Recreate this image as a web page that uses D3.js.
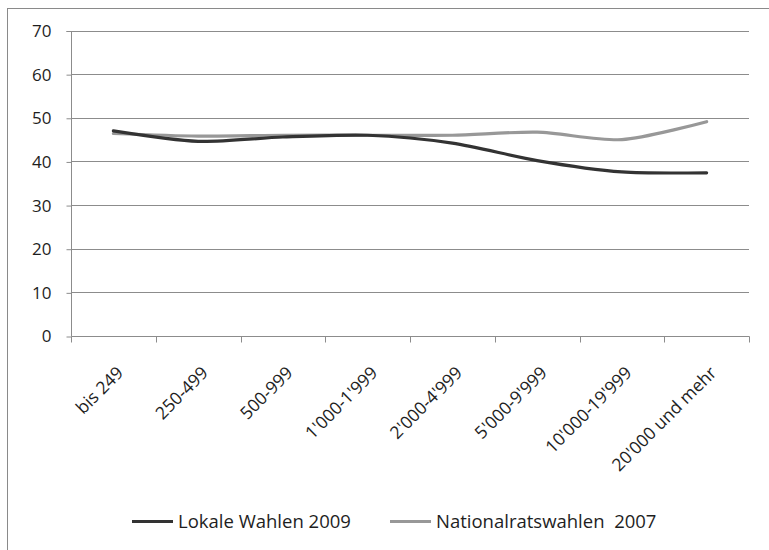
<!DOCTYPE html>
<html><head><meta charset="utf-8">
<script src="https://cdn.jsdelivr.net/npm/d3@7"></script>
<style>body{margin:0;background:#fff}svg{display:block}text{font-family:"Open Sans",sans-serif;fill:#1e1e1e}</style>
</head><body>
<svg id="c" width="769" height="550"></svg>
<script>
const categories = ["bis 249","250-499","500-999","1'000-1'999","2'000-4'999","5'000-9'999","10'000-19'999","20'000 und mehr"];
const lokale = [47.0, 44.6, 45.6, 46.0, 44.2, 40.2, 37.6, 37.4];
const national = [46.4, 45.8, 46.0, 46.0, 46.0, 46.7, 45.0, 49.1];
const yTicks = [0,10,20,30,40,50,60,70];
const seriesNames = ["Lokale Wahlen 2009","Nationalratswahlen  2007"];

const svg = d3.select("#c");
const L = 71, R = 749, T = 30.5, B = 336;
svg.append("rect").attr("x",7.5).attr("y",8.5).attr("width",800).attr("height",600)
  .attr("fill","none").attr("stroke","#8a8a8a").attr("stroke-width",1);

const x = d3.scaleBand().domain(categories).range([L,R]);
const y = d3.scaleLinear().domain([0,70]).range([B,T]);

// gridlines
svg.append("g").selectAll("line").data(yTicks.filter(d=>d>0)).join("line")
  .attr("x1",L).attr("x2",R).attr("y1",d=>Math.round(y(d))+0.5).attr("y2",d=>Math.round(y(d))+0.5)
  .attr("stroke","#8c8c8c").attr("stroke-width",1);

// y axis
const ya = svg.append("g").attr("transform",`translate(${L+0.5},0.5)`)
  .call(d3.axisLeft(y).tickValues(yTicks).tickSize(5).tickPadding(15).tickFormat(d3.format("d")));
ya.select(".domain").attr("stroke","#8c8c8c").attr("d",`M-5,${Math.round(T)}H0V${B}`);
ya.selectAll(".tick line").attr("stroke","#8c8c8c");
ya.selectAll(".tick text").attr("font-size",17).attr("font-family","Open Sans").attr("fill","#1e1e1e");

// x axis
const xa = svg.append("g").attr("transform",`translate(0.5,${B+0.5})`);
xa.append("line").attr("x1",L).attr("x2",R).attr("stroke","#8c8c8c");
const xt = categories.map(c=>x(c)).concat([R]);
xa.selectAll("line.t").data(xt).join("line").attr("class","t")
  .attr("x1",d=>Math.round(d)).attr("x2",d=>Math.round(d)).attr("y1",0).attr("y2",6).attr("stroke","#8c8c8c");
svg.append("g").selectAll("text").data(categories).join("text")
  .attr("transform",d=>`translate(${x(d)+x.bandwidth()/2+11},${B+38}) rotate(-45)`)
  .attr("text-anchor","end").attr("font-size",17.5).text(d=>d);

// lines
const line = d3.line().x((d,i)=>x(categories[i])+x.bandwidth()/2).y(d=>y(d)).curve(d3.curveCardinal.tension(0.2));
svg.append("path").datum(national).attr("d",line).attr("fill","none").attr("stroke","#989898").attr("stroke-width",3.2).attr("stroke-linecap","round");
svg.append("path").datum(lokale).attr("d",line).attr("fill","none").attr("stroke","#333333").attr("stroke-width",3.2).attr("stroke-linecap","round");

// legend
const lg = svg.append("g");
const leg = [{n:seriesNames[0],c:"#333333",x:132},{n:seriesNames[1],c:"#989898",x:390}];
leg.forEach(o=>{
  lg.append("line").attr("x1",o.x).attr("x2",o.x+41).attr("y1",521.5).attr("y2",521.5).attr("stroke",o.c).attr("stroke-width",3);
  lg.append("text").attr("x",o.x+46).attr("y",528).attr("font-size",18.5).attr("xml:space","preserve").text(o.n);
});
</script>
</body></html>
